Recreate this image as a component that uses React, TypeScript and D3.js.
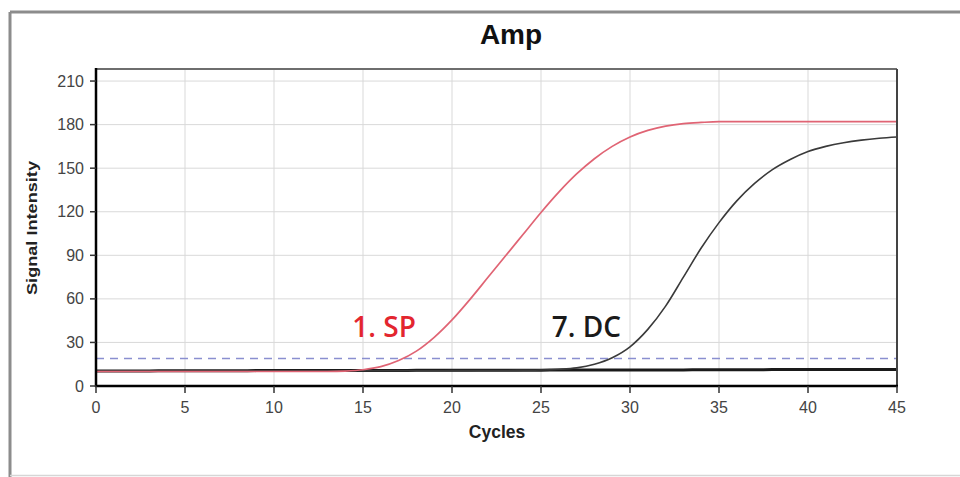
import React from 'react';
import * as d3 from 'd3';

const cycles = [0,1,2,3,4,5,6,7,8,9,10,11,12,13,14,15,16,17,18,19,20,21,22,23,24,25,26,27,28,29,30,31,32,33,34,35,36,37,38,39,40,41,42,43,44,45];
const spValues = [10,10,10,10,10,10,10,10,10,10,10,10,10,10,10.3,11.2,13.3,17.5,24,33.5,45.5,59.5,74.5,89.5,104.5,119.5,133.5,146,156.5,165,171.5,176,179,180.7,181.5,182,182,182,182,182,182,182,182,182,182,182];
const dcValues = [10.5,10.5,10.5,10.5,10.5,10.5,10.5,10.5,10.5,10.5,10.5,10.5,10.5,10.5,10.5,10.5,10.5,10.5,10.5,10.5,10.6,10.6,10.7,10.7,10.8,11,11.5,12.5,15,19.5,27,39,55,75,95,112.5,127.5,139.5,149,156,161.5,165,167.5,169.3,170.6,171.5];
const ncValues = [10.4,10.4,10.4,10.4,10.5,10.5,10.5,10.5,10.5,10.6,10.6,10.6,10.6,10.6,10.7,10.7,10.7,10.7,10.8,10.8,10.8,10.8,10.9,10.9,10.9,10.9,11,11,11,11,11.1,11.1,11.1,11.1,11.2,11.2,11.2,11.2,11.3,11.3,11.3,11.3,11.4,11.4,11.4,11.4];
const thresholdValue = 19;
const xTicks = [0,5,10,15,20,25,30,35,40,45];
const yTicks = [0,30,60,90,120,150,180,210];
const labelNames = ['1. SP', '7. DC'];
const labelCycles = [14.4, 25.6];
const labelLevel = 33.5;

export default function App() {
  const W = 960, H = 477;
  const left = 96, right = 897, top = 69, bottom = 386;
  const x = d3.scaleLinear().domain([0, 45]).range([left, right]);
  const y = d3.scaleLinear().domain([0, 218.3]).range([bottom, top]);
  const line = d3.line<number>().x((_, i) => x(cycles[i])).y(d => y(d)).curve(d3.curveMonotoneX);
  const font = "'Liberation Sans', Arial, sans-serif";
  const labelFont = "'Open Sans', 'Noto Sans', sans-serif";

  return (
    <svg width={W} height={H} style={{ position: 'absolute', left: 0, top: 0, background: '#fff' }}>
      <rect x={0} y={0} width={W} height={H} fill="#fff" />
      {/* outer frame */}
      <line x1={10} x2={W} y1={12} y2={12} stroke="#8c8c8c" strokeWidth={3} />
      <line x1={10} x2={10} y1={12} y2={H} stroke="#8c8c8c" strokeWidth={3} />
      <line x1={10} x2={W} y1={475.5} y2={475.5} stroke="#d6d6d6" strokeWidth={1.5} />
      {/* title */}
      <text x={511} y={44} textAnchor="middle" fontFamily={font} fontWeight="bold" fontSize={28} fill="#111">Amp</text>
      {/* grid */}
      {xTicks.map(t => (
        <line key={'gx' + t} x1={x(t)} x2={x(t)} y1={top} y2={bottom} stroke="#d9d9d9" strokeWidth={1} />
      ))}
      {yTicks.map(t => (
        <line key={'gy' + t} x1={left} x2={right} y1={y(t)} y2={y(t)} stroke="#d9d9d9" strokeWidth={1} />
      ))}
      {/* threshold */}
      <line x1={left} x2={right} y1={y(thresholdValue)} y2={y(thresholdValue)} stroke="#8a8fd0" strokeWidth={1.5} strokeDasharray="8,6" />
      {/* curves */}
      <path d={line(ncValues) || ''} fill="none" stroke="#1a1a1a" strokeWidth={3} />
      <path d={line(dcValues) || ''} fill="none" stroke="#3a3a3a" strokeWidth={1.6} />
      <path d={line(spValues) || ''} fill="none" stroke="#e06474" strokeWidth={1.7} />
      {/* plot border */}
      <line x1={left} x2={right} y1={top} y2={top} stroke="#6e6e6e" strokeWidth={2} />
      <line x1={right} x2={right} y1={top} y2={bottom} stroke="#444" strokeWidth={2} />
      <line x1={left} x2={left} y1={top - 1} y2={bottom + 1} stroke="#000" strokeWidth={2.5} />
      <line x1={left - 1} x2={right + 1} y1={bottom} y2={bottom} stroke="#000" strokeWidth={2.5} />
      {/* y ticks */}
      {yTicks.map(t => (
        <g key={'yt' + t}>
          <line x1={left - 6} x2={left} y1={y(t)} y2={y(t)} stroke="#333" strokeWidth={1.5} />
          <text x={left - 12} y={y(t) + 5.5} textAnchor="end" fontFamily={font} fontSize={16} fill="#444">{t}</text>
        </g>
      ))}
      {/* x ticks */}
      {xTicks.map(t => (
        <g key={'xt' + t}>
          <line x1={x(t)} x2={x(t)} y1={bottom} y2={bottom + 7} stroke="#333" strokeWidth={1.5} />
          <text x={x(t)} y={bottom + 27} textAnchor="middle" fontFamily={font} fontSize={16} fill="#444">{t}</text>
        </g>
      ))}
      {/* axis titles */}
      <text x={497} y={438} textAnchor="middle" fontFamily={font} fontWeight="bold" fontSize={17.5} fill="#222">Cycles</text>
      <text transform={`translate(37,228) rotate(-90)`} textAnchor="middle" fontFamily={font} fontWeight="bold" fontSize={15.5} textLength={134} lengthAdjust="spacingAndGlyphs" fill="#222">Signal Intensity</text>
      {/* annotations */}
      <text x={x(labelCycles[0])} y={y(labelLevel)} fontFamily={labelFont} fontWeight={600} fontSize={28} fill="#e3262f">{labelNames[0]}</text>
      <text x={x(labelCycles[1])} y={y(labelLevel)} fontFamily={labelFont} fontWeight={600} fontSize={28} fill="#1a1a1a">{labelNames[1]}</text>
    </svg>
  );
}
